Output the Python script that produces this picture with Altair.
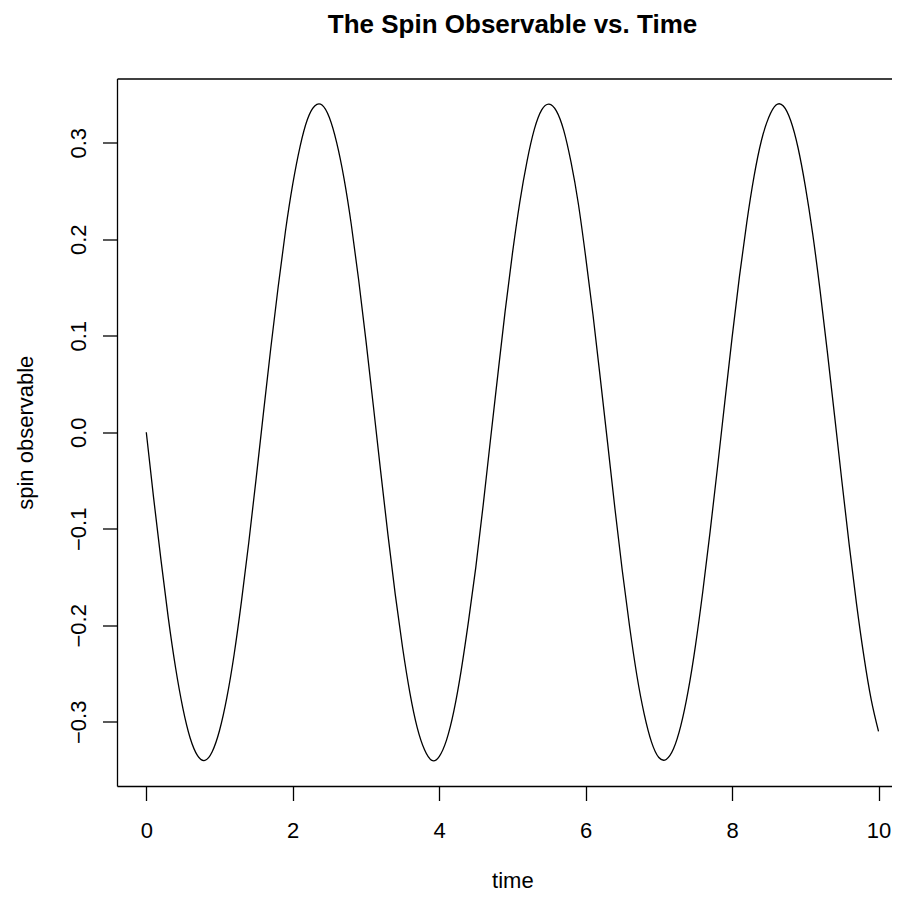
import altair as alt
import pandas as pd

time = [round(i * 0.1, 1) for i in range(101)]
spin = [
    0.000, -0.068, -0.132, -0.192, -0.244, -0.286, -0.317, -0.335, -0.340, -0.331,
    -0.309, -0.275, -0.230, -0.175, -0.114, -0.048, 0.020, 0.087, 0.150, 0.208,
    0.257, 0.296, 0.324, 0.338, 0.339, 0.326, 0.300, 0.263, 0.215, 0.158,
    0.095, 0.028, -0.040, -0.106, -0.168, -0.223, -0.270, -0.306, -0.329, -0.340,
    -0.336, -0.319, -0.289, -0.247, -0.196, -0.140, -0.076, -0.008, 0.059, 0.125,
    0.185, 0.238, 0.281, 0.314, 0.334, 0.340, 0.333, 0.313, 0.280, 0.237,
    0.182, 0.122, 0.056, -0.011, -0.079, -0.143, -0.201, -0.252, -0.292, -0.321,
    -0.337, -0.339, -0.328, -0.304, -0.268, -0.221, -0.165, -0.103, -0.037, 0.031,
    0.098, 0.161, 0.217, 0.265, 0.302, 0.326, 0.339, 0.338, 0.323, 0.295,
    0.255, 0.206, 0.148, 0.084, 0.017, -0.051, -0.117, -0.178, -0.232, -0.277,
    -0.310,
]
x_ticks = [0, 2, 4, 6, 8, 10]
y_ticks = [-0.3, -0.2, -0.1, 0.0, 0.1, 0.2, 0.3]

df = pd.DataFrame({"time": time, "spin": spin})

FONT = "Liberation Sans, Arial, Helvetica, sans-serif"
xscale = alt.Scale(domain=[-0.4, 10.184], nice=False, zero=False)
yscale = alt.Scale(domain=[-0.3665, 0.3665], nice=False, zero=False)

base = alt.Chart(df)

curve = base.mark_line(
    color="black", strokeWidth=1.3, interpolate="natural", clip=True
).encode(
    x=alt.X(
        "time:Q",
        scale=xscale,
        axis=alt.Axis(
            values=x_ticks,
            format="d",
            title="time",
            grid=False,
            domain=True,
            domainColor="black",
            domainWidth=1.3,
            tickSize=14.5,
            tickWidth=1.3,
            tickColor="black",
            labelFontSize=22,
            labelFont=FONT,
            labelColor="black",
            labelBaseline="alphabetic",
            labelPadding=36.5,
            labelFlush=False,
            labelOverlap=False,
            titleFont=FONT,
            titleFontSize=22,
            titleFontWeight="normal",
            titleColor="black",
            titleBaseline="alphabetic",
            titleX=395.4,
            titleAlign="center",
            titleY=101,
        ),
    ),
    y=alt.Y(
        "spin:Q",
        scale=yscale,
        axis=alt.Axis(
            values=y_ticks,
            format=".1f",
            title="spin observable",
            grid=False,
            domain=True,
            domainColor="black",
            domainWidth=1.3,
            tickSize=14.5,
            tickWidth=1.3,
            tickColor="black",
            labelFontSize=22,
            labelFont=FONT,
            labelColor="black",
            labelAngle=270,
            labelAlign="center",
            labelBaseline="alphabetic",
            labelPadding=16.8,
            labelOverlap=False,
            titleFont=FONT,
            titleFontSize=22,
            titleFontWeight="normal",
            titleColor="black",
            titleAngle=270,
            titleBaseline="alphabetic",
            titleX=-84.5,
        ),
    ),
)

topframe = base.mark_line(opacity=0).encode(
    x=alt.X(
        "time:Q",
        scale=xscale,
        axis=alt.Axis(
            orient="top",
            labels=False,
            ticks=False,
            grid=False,
            domain=True,
            domainColor="black",
            domainWidth=1.3,
            title="",
        ),
    ),
    y=alt.Y("spin:Q", scale=yscale, axis=None),
)

chart = (
    alt.layer(curve, topframe)
    .resolve_axis(x="independent", y="independent")
    .properties(
        width=775,
        height=707.5,
        background="white",
        title=alt.TitleParams(
            "The Spin Observable vs. Time",
            font=FONT,
            fontSize=26,
            fontWeight="bold",
            color="black",
            anchor="middle",
            baseline="alphabetic",
            offset=20,
            dx=8,
        ),
        autosize=alt.AutoSizeParams(type="none"),
        padding={"left": 109, "top": 70.5, "right": 0, "bottom": 105},
    )
    .configure_view(strokeWidth=0)
)

chart.save("out.html", embed_options={"renderer": "svg", "actions": False})
